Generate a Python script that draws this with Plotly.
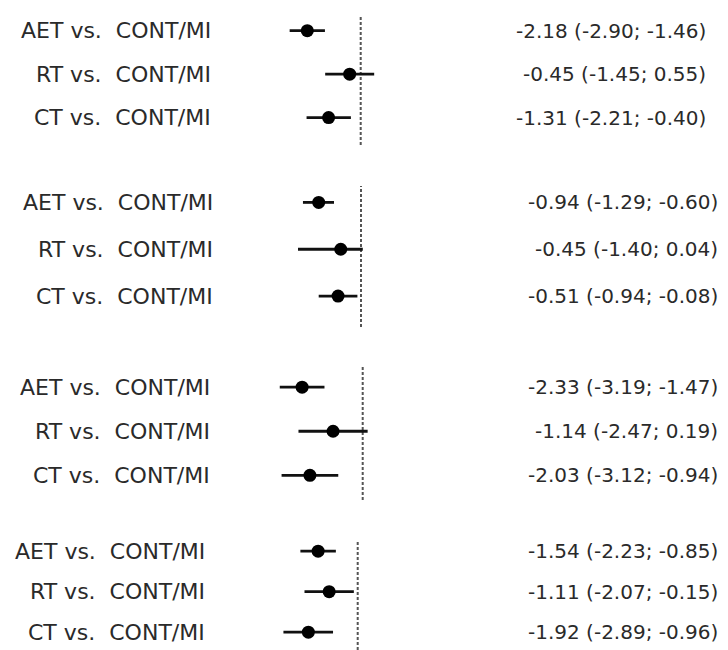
import plotly.graph_objects as go

# Forest plot: four outcome blocks, each comparing three exercise types with control
comparisons = ["AET vs.\u00a0 CONT/MI", "RT vs.\u00a0 CONT/MI", "CT vs.\u00a0 CONT/MI"]

est_1 = [-2.18, -0.45, -1.31]
lo_1 = [-2.90, -1.45, -2.21]
hi_1 = [-1.46, 0.55, -0.40]

est_2 = [-0.94, -0.45, -0.51]
lo_2 = [-1.29, -1.40, -0.94]
hi_2 = [-0.60, 0.04, -0.08]

est_3 = [-2.33, -1.14, -2.03]
lo_3 = [-3.19, -2.47, -3.12]
hi_3 = [-1.47, 0.19, -0.94]

est_4 = [-1.54, -1.11, -1.92]
lo_4 = [-2.23, -2.07, -2.89]
hi_4 = [-0.85, -0.15, -0.96]

blocks = [(est_1, lo_1, hi_1), (est_2, lo_2, hi_2), (est_3, lo_3, hi_3), (est_4, lo_4, hi_4)]

# ---- layout constants (pixels in a 728 x 650 canvas) ----
W, H = 728, 650
zero_px = [360.7, 361.0, 362.7, 357.7]      # where the null line sits in each block
px_per_unit = [24.5, 45.0, 26.0, 25.7]      # horizontal scale of each block
block_top = [15, 186, 366, 541]
block_bottom = [145, 327, 500, 650]
y_ranges = [[2.63, -0.36], [2.66, -0.35], [2.56, -0.48], [2.44, -0.25]]
label_right = [213, 215, 212, 207]
text_right = [708, 720, 720, 720]

LABEL_FONT = dict(family="DejaVu Sans", size=22, color="#2a2a2a")
VALUE_FONT = dict(family="DejaVu Sans", size=20, color="#2a2a2a")

fig = go.Figure()
annotations = []
shapes = []
layout_axes = {}

for k, (est, lo, hi) in enumerate(blocks):
    n = k + 1
    xa = "x" if n == 1 else f"x{n}"
    ya = "y" if n == 1 else f"y{n}"
    rows = list(range(len(est)))

    fig.add_trace(go.Scatter(
        x=est, y=rows, xaxis=xa, yaxis=ya, mode="markers",
        marker=dict(color="black", size=13),
        error_x=dict(type="data", symmetric=False,
                     array=[h - e for h, e in zip(hi, est)],
                     arrayminus=[e - l for e, l in zip(est, lo)],
                     color="#111111", thickness=2.8, width=0),
        showlegend=False, hoverinfo="skip",
    ))

    z, s = zero_px[k], px_per_unit[k]
    layout_axes["xaxis" if n == 1 else f"xaxis{n}"] = dict(
        domain=[0, 1], range=[-z / s, (W - z) / s], anchor=ya,
        visible=False, showgrid=False, zeroline=False, fixedrange=True,
    )
    layout_axes["yaxis" if n == 1 else f"yaxis{n}"] = dict(
        domain=[1 - block_bottom[k] / H, 1 - block_top[k] / H],
        range=y_ranges[k], anchor=xa,
        visible=False, showgrid=False, zeroline=False, fixedrange=True,
    )

    # dashed null line
    shapes.append(dict(
        type="line", xref=xa, yref=f"{ya} domain", x0=0, x1=0, y0=0, y1=1,
        line=dict(color="#555555", width=2, dash="3px,2px"), layer="below",
    ))

    for r, lab in enumerate(comparisons):
        annotations.append(dict(
            text=lab, xref="paper", yref=ya, x=label_right[k] / W, y=r,
            xanchor="right", yanchor="middle", showarrow=False, font=LABEL_FONT,
        ))
        annotations.append(dict(
            text=f"{est[r]:.2f} ({lo[r]:.2f}; {hi[r]:.2f})",
            xref="paper", yref=ya, x=text_right[k] / W, y=r,
            xanchor="right", yanchor="middle", showarrow=False, font=VALUE_FONT,
        ))

fig.update_layout(
    width=W, height=H,
    margin=dict(l=0, r=0, t=0, b=0),
    paper_bgcolor="white", plot_bgcolor="white",
    annotations=annotations, shapes=shapes,
    **layout_axes,
)

fig.write_html("out.html", config={"displayModeBar": False})
